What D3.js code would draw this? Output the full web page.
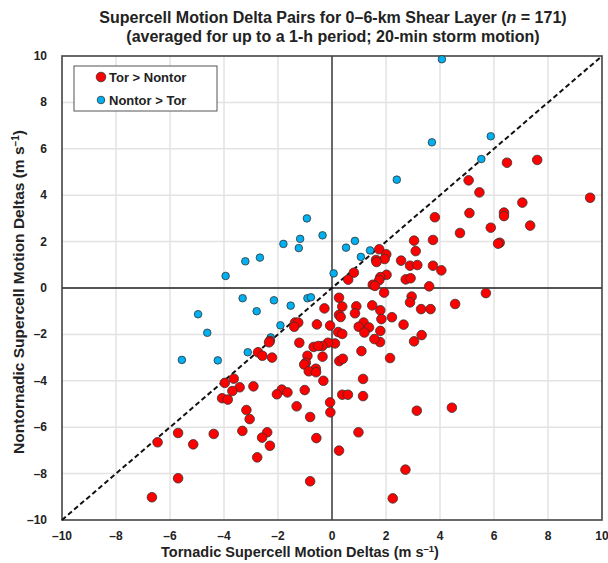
<!DOCTYPE html>
<html><head><meta charset="utf-8">
<script src="https://cdn.jsdelivr.net/npm/d3@7"></script>
<style>body{margin:0;background:#fff}svg{display:block}text{font-family:"Liberation Sans",Arial,sans-serif}</style>
</head><body>
<script>
const torX = [6.48,7.60,5.06,5.46,9.56,7.05,5.09,6.37,6.37,3.81,4.74,5.88,7.34,6.21,6.15,3.04,3.74,3.10,2.56,2.89,3.16,3.74,4.05,1.75,2.01,1.95,1.63,1.65,2.02,0.81,0.60,1.79,1.75,1.51,1.59,2.73,2.91,3.60,
5.70,4.56,2.95,2.89,3.30,3.65,2.65,3.32,3.04,2.22,1.93,1.49,1.79,1.83,1.79,1.78,1.57,0.90,0.85,1.17,1.37,0.99,1.20,0.26,0.38,0.26,0.32,0.23,0.38,0.11,0.27,0.40,1.09,2.15,1.15,0.38,0.59,1.15,3.14,4.44,0.98,0.26,2.72,2.25,
-0.07,-0.28,-0.15,-0.36,-0.35,-0.32,-0.07,-0.06,
-1.37,-1.25,-1.40,-0.56,-2.30,-2.33,-1.21,-0.68,-0.51,-2.74,-2.58,-2.22,-0.91,-0.97,-1.03,-0.60,-0.86,-0.59,-3.64,-3.97,-3.42,-3.69,-4.07,-3.86,-2.91,-1.86,-1.65,-2.04,-1.01,-1.31,-0.81,-3.17,-3.05,-5.70,-4.38,-6.46,-5.14,-3.32,-2.40,-2.59,-2.30,-2.77,-0.58,-5.70,-6.67,-0.81];
const torY = [5.40,5.52,4.64,4.12,3.89,3.68,3.23,3.25,3.10,3.05,2.37,2.60,2.69,1.95,1.91,2.04,2.07,1.59,1.18,0.96,0.99,0.96,0.76,1.67,1.45,1.25,1.21,1.12,0.57,0.66,0.36,0.47,0.34,0.14,0.09,0.37,0.42,0.07,
-0.22,-0.69,-0.37,-0.62,-0.91,-0.91,-1.58,-2.03,-2.30,-1.26,-0.20,-0.75,-0.96,-1.34,-1.85,-2.33,-2.20,-0.79,-1.09,-1.49,-1.70,-1.67,-1.92,-0.42,-0.80,-1.16,-1.25,-1.90,-1.98,-2.39,-3.15,-3.05,-2.72,-3.02,-3.92,-4.60,-4.60,-4.66,-5.29,-5.16,-6.22,-7.01,-7.83,-9.07,
-1.62,-0.88,-2.36,-2.50,-2.96,-4.00,-4.93,-5.36,
-1.49,-1.49,-1.67,-1.57,-2.28,-2.34,-2.36,-2.54,-2.50,-2.77,-2.92,-3.00,-2.92,-3.22,-3.30,-3.48,-3.59,-3.63,-3.91,-4.09,-4.28,-4.44,-4.75,-4.81,-4.24,-4.38,-4.50,-4.58,-4.40,-5.10,-5.56,-5.26,-5.65,-6.25,-6.29,-6.65,-6.74,-6.16,-6.22,-6.45,-6.80,-7.30,-6.47,-8.20,-9.02,-8.33];
const nonX = [-3.94,-3.21,-2.67,-1.80,-1.18,-1.23,-0.93,-0.35,0.06,4.07,3.70,5.88,5.53,2.40,0.85,0.52,1.41,1.07,
-3.31,-2.15,-1.53,-0.91,-0.78,-2.79,-4.96,-4.62,-1.91,-2.27,-3.12,-5.56,-4.23];
const nonY = [0.52,1.15,1.31,1.90,2.12,1.72,3.00,2.27,0.63,9.86,6.28,6.54,5.56,4.67,2.03,1.74,1.62,1.34,
-0.44,-0.53,-0.76,-0.44,-0.40,-1.00,-1.13,-1.93,-1.61,-2.13,-2.77,-3.10,-3.12];
const ticks = [-10,-8,-6,-4,-2,0,2,4,6,8,10];
const titleLines = ["Supercell Motion Delta Pairs for 0\u20136-km Shear Layer (", "(averaged for up to a 1-h period; 20-min storm motion)"];
const legendLabels = ["Tor > Nontor", "Nontor > Tor"];
const colors = ["#ff0000", "#00b0f0"];

const W = 608, H = 563;
const svg = d3.select("body").append("svg").attr("width", W).attr("height", H);
const x = d3.scaleLinear().domain([-10, 10]).range([62, 602]);
const y = d3.scaleLinear().domain([-10, 10]).range([520, 56]);
const fmt = d => d < 0 ? "\u2013" + Math.abs(d) : String(d);

// grid
svg.append("g").selectAll("line").data(ticks.slice(1, -1)).join("line")
  .attr("x1", d => x(d)).attr("x2", d => x(d)).attr("y1", y(10)).attr("y2", y(-10))
  .attr("stroke", "#e3e3e3").attr("stroke-width", 1.5);
svg.append("g").selectAll("line").data(ticks.slice(1, -1)).join("line")
  .attr("y1", d => y(d)).attr("y2", d => y(d)).attr("x1", x(-10)).attr("x2", x(10))
  .attr("stroke", "#e3e3e3").attr("stroke-width", 1.5);

// zero lines
svg.append("line").attr("x1", x(0)).attr("x2", x(0)).attr("y1", y(10)).attr("y2", y(-10)).attr("stroke", "#222").attr("stroke-width", 1.3);
svg.append("line").attr("y1", y(0)).attr("y2", y(0)).attr("x1", x(-10)).attr("x2", x(10)).attr("stroke", "#222").attr("stroke-width", 1.3);

// frame
svg.append("rect").attr("x", x(-10)).attr("y", y(10)).attr("width", x(10) - x(-10)).attr("height", y(-10) - y(10))
  .attr("fill", "none").attr("stroke", "#444").attr("stroke-width", 1.6);

// 1:1 line
svg.append("line").attr("x1", x(-10)).attr("y1", y(-10)).attr("x2", x(10)).attr("y2", y(10))
  .attr("stroke", "#111").attr("stroke-width", 2).attr("stroke-dasharray", "5,3");

// points
const tor = torX.map((v, i) => [v, torY[i]]);
const non = nonX.map((v, i) => [v, nonY[i]]);
svg.append("g").selectAll("circle").data(non).join("circle")
  .attr("cx", d => x(d[0])).attr("cy", d => y(d[1])).attr("r", 3.8)
  .attr("fill", colors[1]).attr("stroke", "#333").attr("stroke-width", 0.8);
svg.append("g").selectAll("circle").data(tor).join("circle")
  .attr("cx", d => x(d[0])).attr("cy", d => y(d[1])).attr("r", 4.8)
  .attr("fill", colors[0]).attr("stroke", "#333").attr("stroke-width", 0.8);

// tick labels
svg.append("g").selectAll("text").data(ticks).join("text")
  .attr("x", d => x(d)).attr("y", 540).attr("text-anchor", "middle")
  .attr("font-size", 12).attr("font-weight", "bold").attr("fill", "#222").text(fmt);
svg.append("g").selectAll("text").data(ticks).join("text")
  .attr("x", 47).attr("y", d => y(d) + 4).attr("text-anchor", "end")
  .attr("font-size", 12).attr("font-weight", "bold").attr("fill", "#222").text(fmt);

// axis titles
const xt = svg.append("text").attr("x", 300).attr("y", 557).attr("text-anchor", "middle")
  .attr("font-size", 14.5).attr("font-weight", "bold").attr("fill", "#222");
xt.append("tspan").text("Tornadic Supercell Motion Deltas (m s");
xt.append("tspan").attr("dy", -5).attr("font-size", 9.5).text("\u20131");
xt.append("tspan").attr("dy", 5).text(")");

const yt = svg.append("text").attr("transform", "translate(24,292) rotate(-90)").attr("text-anchor", "middle")
  .attr("font-size", 15.5).attr("font-weight", "bold").attr("fill", "#222");
yt.append("tspan").text("Nontornadic Supercell Motion Deltas (m s");
yt.append("tspan").attr("dy", -5).attr("font-size", 10).text("\u20131");
yt.append("tspan").attr("dy", 5).text(")");

// title
const t1 = svg.append("text").attr("x", 333).attr("y", 23).attr("text-anchor", "middle")
  .attr("font-size", 16).attr("font-weight", "bold").attr("fill", "#222");
t1.append("tspan").text(titleLines[0]);
t1.append("tspan").attr("font-style", "italic").text("n");
t1.append("tspan").text(" = 171)");
svg.append("text").attr("x", 333).attr("y", 42).attr("text-anchor", "middle")
  .attr("font-size", 16).attr("font-weight", "bold").attr("fill", "#222").text(titleLines[1]);

// legend
const lg = svg.append("g");
lg.append("rect").attr("x", 74).attr("y", 66).attr("width", 143).attr("height", 45)
  .attr("fill", "#fff").attr("stroke", "#555").attr("stroke-width", 1);
legendLabels.forEach((lab, i) => {
  lg.append("circle").attr("cx", 101).attr("cy", 77 + i * 23).attr("r", i === 0 ? 4.8 : 3.8)
    .attr("fill", colors[i]).attr("stroke", "#333").attr("stroke-width", 0.8);
  lg.append("text").attr("x", 109).attr("y", 82 + i * 23).attr("font-size", 13).attr("font-weight", "bold")
    .attr("fill", "#222").text(lab);
});
</script>
</body></html>
